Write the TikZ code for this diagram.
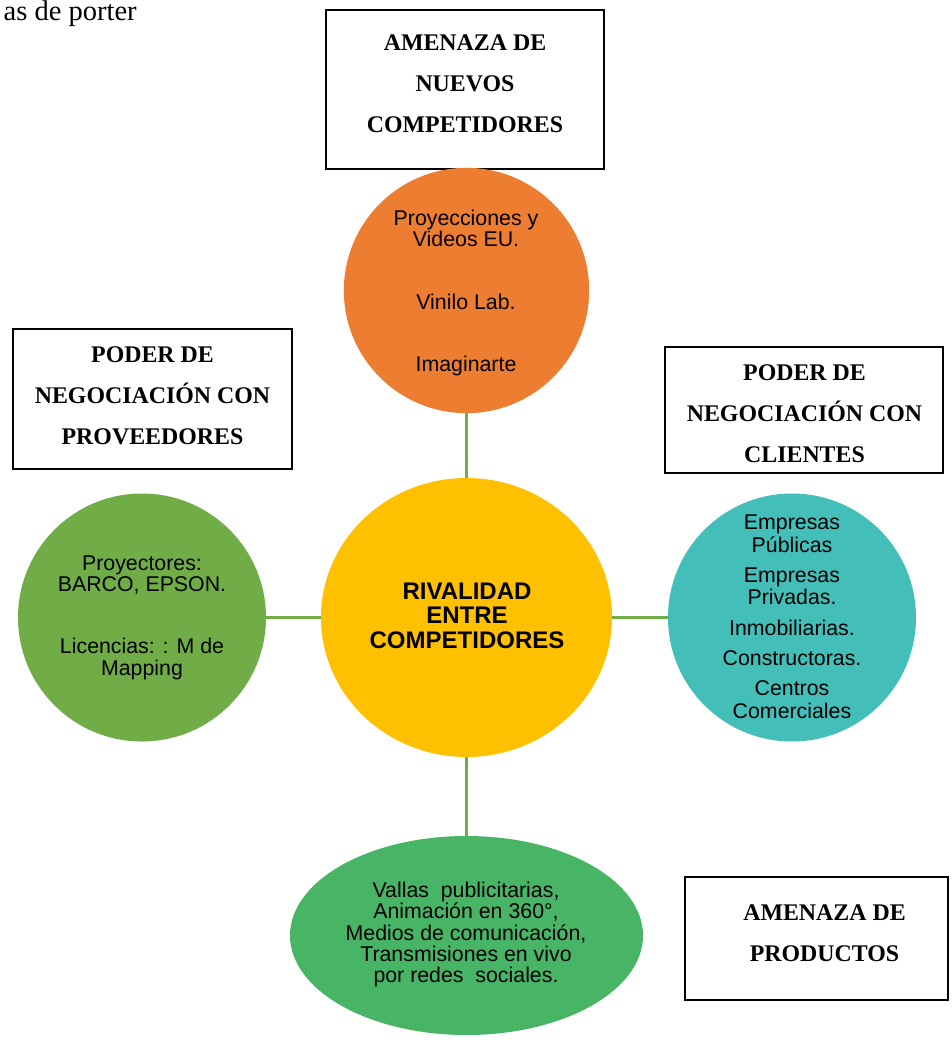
\documentclass[tikz,border=0pt]{standalone}
\usepackage{fontspec}
\setmainfont{Liberation Serif}
\setsansfont{Liberation Sans}
\usetikzlibrary{shapes.geometric}

\definecolor{orangeC}{HTML}{ED7D31}
\definecolor{yellowC}{HTML}{FFC000}
\definecolor{greenC}{HTML}{70AD47}
\definecolor{tealC}{HTML}{44BEB9}
\definecolor{greenB}{HTML}{48B566}

\tikzset{
  forcebox/.style={draw=black, line width=1.6pt, fill=white, inner sep=0pt},
  forcetext/.style={font=\bfseries\fontsize{17.9}{30.75}\selectfont, align=center, inner sep=0pt},
  bubble/.style={circle, draw=none, inner sep=0pt},
  oval/.style={ellipse, draw=none, inner sep=0pt},
  bubbletext/.style={font=\sffamily\fontsize{16}{16}\selectfont, align=center, inner sep=0pt},
  link/.style={draw=greenC, line width=2pt}
}

\begin{document}
\begin{tikzpicture}[x=0.75pt, y=-0.75pt]
\useasboundingbox (0,0) rectangle (951,1042);

% heading fragment
\node[anchor=base east, inner sep=0pt, font=\fontsize{21.4}{26}\selectfont] (head) at (137,21) {as de porter};

% outer force boxes
\node[forcebox, minimum width=208.5pt, minimum height=119.25pt] (bTop) at (465,89.5) {};
\node[forcetext] (tTop) at (465,84) {AMENAZA DE\\NUEVOS\\COMPETIDORES};

\node[forcebox, minimum width=209.25pt, minimum height=105pt] (bLeft) at (152.5,399) {};
\node[forcetext] (tLeft) at (152.5,396) {PODER DE\\NEGOCIACIÓN CON\\PROVEEDORES};

\node[forcebox, minimum width=208.5pt, minimum height=94.5pt] (bRight) at (804,410) {};
\node[forcetext] (tRight) at (804.5,413.5) {PODER DE\\NEGOCIACIÓN CON\\CLIENTES};

\node[forcebox, minimum width=197.25pt, minimum height=92.25pt] (bBot) at (816.5,938.5) {};
\node[forcetext] (tBot) at (824.5,933.5) {AMENAZA DE\\PRODUCTOS};

% bubbles
\node[bubble, fill=orangeC, minimum size=184pt] (cTop) at (466.5,290.5) {};
\node[bubbletext] (xTop) at (466,293) {Proyecciones y\\Videos EU.\\[31pt]Vinilo Lab.\\[30.5pt]Imaginarte};

\node[oval, fill=yellowC, minimum width=218.25pt, minimum height=209.25pt] (cMid) at (466.5,617.5) {};
\node[font=\sffamily\bfseries\fontsize{18}{18.4}\selectfont, align=center, inner sep=0pt] (xMid) at (467,615.5) {RIVALIDAD\\ENTRE\\COMPETIDORES};

\node[bubble, fill=greenC, minimum size=186pt] (cLeft) at (142,617.5) {};
\node[bubbletext] (xLeft) at (142,617.7) {Proyectores:\\BARCO, EPSON.\\[30.5pt]Licencias: : M de\\Mapping};

\node[bubble, fill=tealC, minimum size=186pt] (cRight) at (792,617.5) {};
\node[bubbletext, font=\sffamily\fontsize{16}{17}\selectfont] (xRight) at (792,616.5)
  {Empresas\\Públicas\\[5.5pt]Empresas\\Privadas.\\[6pt]Inmobiliarias.\\[5.5pt]Constructoras.\\[5.5pt]Centros\\Comerciales};

\node[oval, fill=greenB, minimum width=264.75pt, minimum height=149.25pt] (cBot) at (466.5,935.5) {};
\node[bubbletext] (xBot) at (466,934.7) {Vallas~ publicitarias,\\Animación en 360°,\\Medios de comunicación,\\Transmisiones en vivo\\por redes~ sociales.};

% connectors
\draw[link] (cTop.south) -- (cMid.north);
\draw[link] (cLeft.east) -- (cMid.west);
\draw[link] (cMid.east) -- (cRight.west);
\draw[link] (cMid.south) -- (cBot.north);
\end{tikzpicture}
\end{document}
